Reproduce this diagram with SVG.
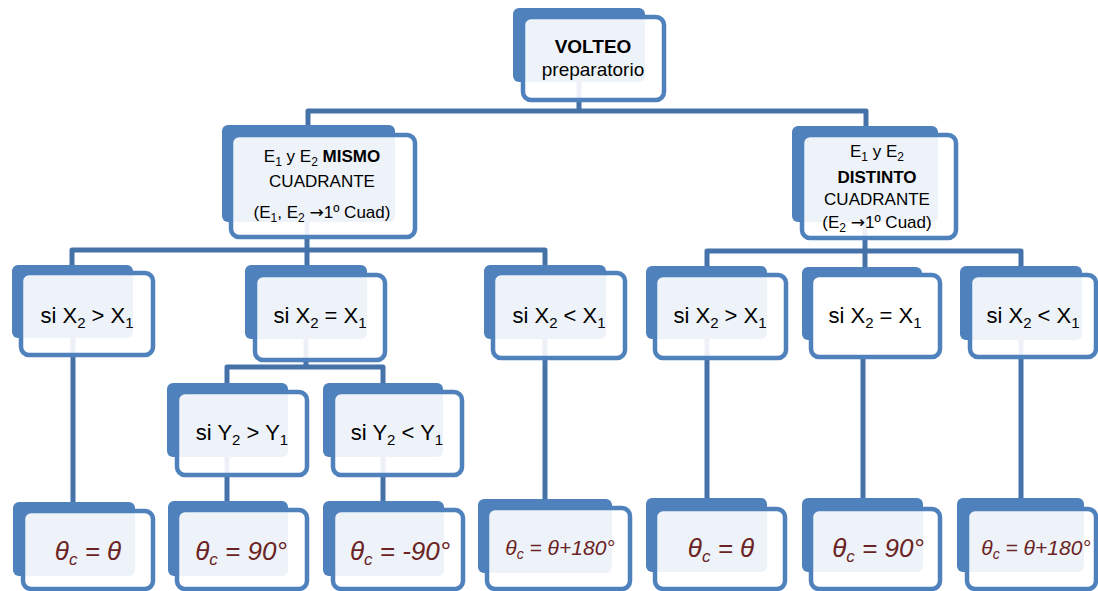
<svg xmlns="http://www.w3.org/2000/svg" width="1098" height="591" viewBox="0 0 1098 591">
<style>
.back{fill:#4F81BD}
.front{fill:#fff;fill-opacity:0.9;stroke:#4F81BD;stroke-width:4.5}
.solid{fill-opacity:1}
.conn{fill:none;stroke:#4672AA;stroke-width:5;stroke-linejoin:round}
.t{font-family:"Liberation Sans",Arial,sans-serif;fill:#000;text-anchor:middle}
.f{font-family:"Liberation Sans",Arial,sans-serif;font-style:italic;fill:#6B2323;text-anchor:middle}
.arr{font-family:"DejaVu Sans",sans-serif}
</style>
<rect width="1098" height="591" fill="#fff"/>
<g id="connectors">
<path class="conn" d="M579,82 V111 M308,125 V111 H866 V126"/>
<path class="conn" d="M307,222 V265 M72,265 V250 H545 V265"/>
<path class="conn" d="M865,222 V267 M707,266 V251 H1021 V266"/>
<path class="conn" d="M306,339 V367 M227,383 V367 H383 V383"/>
<path class="conn" d="M73,338 V502 M227,457 V501 M383,457 V501 M545,339 V499 M707,339 V498 M863,340 V498 M1021,340 V498"/>
</g>
<g id="n-volteo">
<rect class="back" x="513" y="8" width="132" height="74" rx="6"/>
<rect class="front" x="523" y="17" width="141" height="83" rx="8"/>
<text class="t" x="593" y="53" font-size="19" font-weight="bold">VOLTEO</text>
<text class="t" x="593" y="76" font-size="19">preparatorio</text>
</g>
<g id="n-mismo">
<rect class="back" x="222" y="125" width="173" height="97" rx="6"/>
<rect class="front" x="231" y="135" width="184" height="102" rx="8"/>
<text class="t" x="322" y="162" font-size="17">E<tspan font-size="12" dy="4">1</tspan><tspan dy="-4"> y E</tspan><tspan font-size="12" dy="4">2</tspan><tspan dy="-4" font-weight="bold"> MISMO</tspan></text>
<text class="t" x="322" y="187" font-size="17">CUADRANTE</text>
<text class="t" x="322" y="218" font-size="17">(E<tspan font-size="12" dy="4">1</tspan><tspan dy="-4">, E</tspan><tspan font-size="12" dy="4">2</tspan><tspan dy="-4"> </tspan><tspan class="arr">→</tspan>1º Cuad)</text>
</g>
<g id="n-distinto">
<rect class="back" x="792" y="126" width="146" height="96" rx="6"/>
<rect class="front" x="802" y="135" width="154" height="103" rx="8"/>
<text class="t" x="877" y="157" font-size="17">E<tspan font-size="12" dy="4">1</tspan><tspan dy="-4"> y E</tspan><tspan font-size="12" dy="4">2</tspan></text>
<text class="t" x="877" y="183" font-size="17" font-weight="bold">DISTINTO</text>
<text class="t" x="877" y="205" font-size="17">CUADRANTE</text>
<text class="t" x="877" y="228" font-size="17">(E<tspan font-size="12" dy="4">2</tspan><tspan dy="-4"> </tspan><tspan class="arr">→</tspan>1º Cuad)</text>
</g>
<g id="n-l1">
<rect class="back" x="12" y="265" width="121" height="73" rx="6"/>
<rect class="front" x="21" y="273" width="132" height="82" rx="8"/>
<text class="t" x="87" y="323" font-size="22">si X<tspan font-size="15" dy="5">2</tspan><tspan dy="-5"> &gt; X</tspan><tspan font-size="15" dy="5">1</tspan></text>
</g>
<g id="n-l2">
<rect class="back" x="245" y="265" width="122" height="74" rx="6"/>
<rect class="front" x="255" y="275" width="130" height="85" rx="8"/>
<text class="t" x="320" y="323" font-size="22">si X<tspan font-size="15" dy="5">2</tspan><tspan dy="-5"> = X</tspan><tspan font-size="15" dy="5">1</tspan></text>
</g>
<g id="n-l3">
<rect class="back" x="484" y="265" width="122" height="74" rx="6"/>
<rect class="front" x="493" y="273" width="132" height="85" rx="8"/>
<text class="t" x="559" y="323" font-size="22">si X<tspan font-size="15" dy="5">2</tspan><tspan dy="-5"> &lt; X</tspan><tspan font-size="15" dy="5">1</tspan></text>
</g>
<g id="n-r1">
<rect class="back" x="646" y="266" width="121" height="73" rx="6"/>
<rect class="front" x="655" y="275" width="131" height="83" rx="8"/>
<text class="t" x="720" y="323" font-size="22">si X<tspan font-size="15" dy="5">2</tspan><tspan dy="-5"> &gt; X</tspan><tspan font-size="15" dy="5">1</tspan></text>
</g>
<g id="n-r2">
<rect class="back" x="802" y="267" width="120" height="73" rx="6"/>
<rect class="front solid" x="811" y="275" width="129" height="82" rx="8"/>
<text class="t" x="875" y="323" font-size="22">si X<tspan font-size="15" dy="5">2</tspan><tspan dy="-5"> = X</tspan><tspan font-size="15" dy="5">1</tspan></text>
</g>
<g id="n-r3">
<rect class="back" x="960" y="266" width="122" height="74" rx="6"/>
<rect class="front" x="970" y="275" width="126" height="82" rx="8"/>
<text class="t" x="1033" y="323" font-size="22">si X<tspan font-size="15" dy="5">2</tspan><tspan dy="-5"> &lt; X</tspan><tspan font-size="15" dy="5">1</tspan></text>
</g>
<g id="n-y1">
<rect class="back" x="167" y="383" width="121" height="74" rx="6"/>
<rect class="front" x="177" y="392" width="130" height="83" rx="8"/>
<text class="t" x="242" y="440" font-size="22">si Y<tspan font-size="15" dy="5">2</tspan><tspan dy="-5"> &gt; Y</tspan><tspan font-size="15" dy="5">1</tspan></text>
</g>
<g id="n-y2">
<rect class="back" x="323" y="383" width="120" height="74" rx="6"/>
<rect class="front" x="333" y="392" width="129" height="83" rx="8"/>
<text class="t" x="397" y="440" font-size="22">si Y<tspan font-size="15" dy="5">2</tspan><tspan dy="-5"> &lt; Y</tspan><tspan font-size="15" dy="5">1</tspan></text>
</g>
<g id="n-b1">
<rect class="back" x="13" y="502" width="122" height="74" rx="6"/>
<rect class="front" x="23" y="511" width="130" height="78" rx="8"/>
<text class="f" x="88" y="560" font-size="26">θ<tspan font-size="17" dy="5">c</tspan><tspan dy="-5"> = θ</tspan></text>
</g>
<g id="n-b2">
<rect class="back" x="168" y="501" width="120" height="75" rx="6"/>
<rect class="front" x="177" y="510" width="130" height="79" rx="8"/>
<text class="f" x="241" y="560" font-size="26">θ<tspan font-size="17" dy="5">c</tspan><tspan dy="-5"> = 90°</tspan></text>
</g>
<g id="n-b3">
<rect class="back" x="323" y="501" width="121" height="75" rx="6"/>
<rect class="front" x="333" y="510" width="130" height="79" rx="8"/>
<text class="f" x="400" y="560" font-size="26">θ<tspan font-size="17" dy="5">c</tspan><tspan dy="-5"> = -90°</tspan></text>
</g>
<g id="n-b4">
<rect class="back" x="478" y="499" width="134" height="74" rx="6"/>
<rect class="front" x="487" y="508" width="143" height="81" rx="8"/>
<text class="f" x="560" y="555" font-size="21">θ<tspan font-size="14" dy="4">c</tspan><tspan dy="-4"> = θ+180°</tspan></text>
</g>
<g id="n-b5">
<rect class="back" x="646" y="498" width="121" height="74" rx="6"/>
<rect class="front" x="655" y="509" width="130" height="80" rx="8"/>
<text class="f" x="721" y="557" font-size="26">θ<tspan font-size="17" dy="5">c</tspan><tspan dy="-5"> = θ</tspan></text>
</g>
<g id="n-b6">
<rect class="back" x="802" y="498" width="121" height="74" rx="6"/>
<rect class="front" x="811" y="509" width="129" height="80" rx="8"/>
<text class="f" x="878" y="557" font-size="26">θ<tspan font-size="17" dy="5">c</tspan><tspan dy="-5"> = 90°</tspan></text>
</g>
<g id="n-b7">
<rect class="back" x="957" y="498" width="127" height="74" rx="6"/>
<rect class="front" x="967" y="509" width="129" height="80" rx="8"/>
<text class="f" x="1036" y="555" font-size="21">θ<tspan font-size="14" dy="4">c</tspan><tspan dy="-4"> = θ+180°</tspan></text>
</g>
</svg>
